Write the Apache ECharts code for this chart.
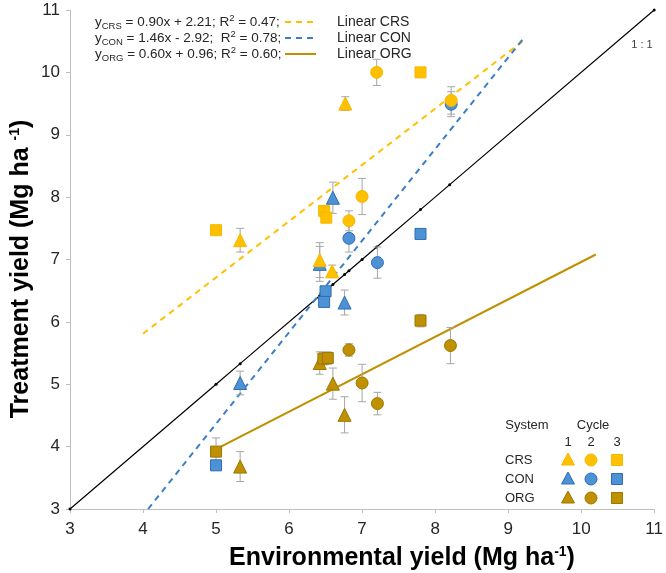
<!DOCTYPE html>
<html>
<head>
<meta charset="utf-8">
<script src="https://cdn.jsdelivr.net/npm/echarts@6/dist/echarts.min.js"></script>
<style>html,body{margin:0;padding:0;background:#fff;}#c{width:666px;height:573px;}</style>
</head>
<body>
<div id="c"></div>
<script>
// ---- data: [environmental yield, treatment yield, error] ----
const crsCycle1 = [[5.33, 7.31, 0.19], [6.42, 6.99, 0.28], [6.59, 6.81, 0.10], [6.77, 9.50, 0.11]];
const crsCycle2 = [[6.82, 7.62, 0.16], [7.00, 8.01, 0.29], [7.20, 10.00, 0.21], [8.22, 9.55, 0.22]];
const crsCycle3 = [[5.00, 7.47, 0.00], [6.48, 7.78, 0.08], [6.51, 7.67, 0.00], [7.80, 10.00, 0.00]];
const conCycle1 = [[5.33, 5.02, 0.19], [6.42, 6.93, 0.28], [6.60, 7.99, 0.25], [6.76, 6.31, 0.20]];
const conCycle2 = [[6.82, 7.34, 0.22], [7.21, 6.95, 0.25], [8.22, 9.49, 0.20]];
const conCycle3 = [[5.00, 3.70, 0.00], [6.50, 6.49, 0.00], [6.48, 6.32, 0.00], [7.80, 7.41, 0.00]];
const orgCycle1 = [[5.33, 3.68, 0.24], [6.42, 5.34, 0.18], [6.60, 5.01, 0.25], [6.76, 4.51, 0.29]];
const orgCycle2 = [[6.82, 5.55, 0.10], [7.00, 5.02, 0.30], [7.21, 4.69, 0.18], [8.21, 5.62, 0.29]];
const orgCycle3 = [[5.00, 3.92, 0.22], [6.47, 5.41, 0.10], [6.53, 5.42, 0.10], [7.80, 6.02, 0.10]];
// trend lines (end points)
const linearCRS = [[4.0, 5.81], [9.2, 10.5]];
const linearCON = [[4.07, 3.0], [9.22, 10.56]];
const linearORG = [[5.0, 3.96], [10.2, 7.08]];
// 1:1 line with its point markers
const oneToOne = [[3, 3], [5, 5], [5.33, 5.33], [6.42, 6.42], [6.5, 6.5], [6.6, 6.6], [6.76, 6.76], [6.82, 6.82], [7, 7], [7.2, 7.2], [7.8, 7.8], [8.2, 8.2], [11, 11]];
const axisTicks = [3, 4, 5, 6, 7, 8, 9, 10, 11];
const eqTexts = [
  'y{sub|CRS} = 0.90x + 2.21; R{sup|2} = 0.47;',
  'y{sub|CON} = 1.46x - 2.92;  R{sup|2} = 0.78;',
  'y{sub|ORG} = 0.60x + 0.96; R{sup|2} = 0.60;'
];
const lineNames = ['Linear CRS', 'Linear CON', 'Linear ORG'];
const systems = ['CRS', 'CON', 'ORG'];
const cycles = ['1', '2', '3'];

const COL = {
  CRS: { fill: '#FFC000', border: '#F5B800' },
  CON: { fill: '#4E92D6', border: '#2E6DB4' },
  ORG: { fill: '#BF9000', border: '#9E7700' }
};
const LINECOL = { CRS: '#FFC000', CON: '#3A7FC6', ORG: '#BF9000' };
const FONT = '"Liberation Sans", Arial, sans-serif';

const chart = echarts.init(document.getElementById('c'));

function errSeries(data) {
  return {
    type: 'custom', z: 3, silent: true,
    data: data.filter(d => d[2] > 0),
    renderItem: function (params, api) {
      const x = api.value(0), y = api.value(1), e = api.value(2);
      const t = api.coord([x, y + e]), b = api.coord([x, y - e]);
      const w = 4, st = { stroke: '#A6A6A6', lineWidth: 1 };
      return { type: 'group', children: [
        { type: 'line', shape: { x1: t[0], y1: t[1], x2: b[0], y2: b[1] }, style: st },
        { type: 'line', shape: { x1: t[0] - w, y1: t[1], x2: t[0] + w, y2: t[1] }, style: st },
        { type: 'line', shape: { x1: b[0] - w, y1: b[1], x2: b[0] + w, y2: b[1] }, style: st }
      ] };
    }
  };
}
const SYM = ['triangle', 'circle', 'rect'];
const SIZE = [13, 12, 11];
function scat(data, sys, cyc, z) {
  return {
    type: 'scatter', z: z, symbol: SYM[cyc], symbolSize: SIZE[cyc],
    data: data.map(d => [d[0], d[1]]),
    itemStyle: { color: COL[sys].fill, borderColor: COL[sys].border, borderWidth: 1, opacity: 1 }
  };
}

const allData = [orgCycle1, orgCycle2, orgCycle3, conCycle1, conCycle2, conCycle3, crsCycle1, crsCycle2, crsCycle3];
const series = [];
series.push({ type: 'line', data: oneToOne, symbol: 'circle', symbolSize: 3, z: 2,
  lineStyle: { color: '#000', width: 1.2 }, itemStyle: { color: '#000' } });
series.push({ type: 'line', data: linearCRS, symbol: 'none', z: 2, lineStyle: { color: LINECOL.CRS, width: 2, type: [6, 5] } });
series.push({ type: 'line', data: linearCON, symbol: 'none', z: 2, lineStyle: { color: LINECOL.CON, width: 2, type: [6, 5] } });
series.push({ type: 'line', data: linearORG, symbol: 'none', z: 2, lineStyle: { color: LINECOL.ORG, width: 2 } });
allData.forEach(d => series.push(errSeries(d)));
series.push(scat(orgCycle1, 'ORG', 0, 4), scat(orgCycle2, 'ORG', 1, 4), scat(orgCycle3, 'ORG', 2, 4));
series.push(scat(conCycle1, 'CON', 0, 5), scat(conCycle2, 'CON', 1, 5), scat(conCycle3, 'CON', 2, 5));
series.push(scat(crsCycle1, 'CRS', 0, 6), scat(crsCycle2, 'CRS', 1, 6), scat(crsCycle3, 'CRS', 2, 6));

const rich = {
  sub: { fontSize: 9.5, verticalAlign: 'bottom', lineHeight: 9, fontFamily: FONT, fill: '#262626' },
  sup: { fontSize: 9.5, verticalAlign: 'top', lineHeight: 9, fontFamily: FONT, fill: '#262626' }
};
const graphics = [];
const rowY = [22, 38, 54];
const lineKeys = ['CRS', 'CON', 'ORG'];
eqTexts.forEach((t, i) => {
  graphics.push({ type: 'text', x: 95, y: rowY[i], style: { text: t, fontSize: 13.5, fontFamily: FONT, fill: '#262626',
    lineHeight: 18, textVerticalAlign: 'middle', rich: rich } });
  graphics.push({ type: 'line', shape: { x1: 285, y1: rowY[i], x2: 316, y2: rowY[i] },
    style: { stroke: LINECOL[lineKeys[i]], lineWidth: 2, lineDash: i < 2 ? [6, 5] : null } });
  graphics.push({ type: 'text', x: 337, y: rowY[i], style: { text: lineNames[i], fontSize: 14, fontFamily: FONT, fill: '#262626', textVerticalAlign: 'middle' } });
});
graphics.push({ type: 'text', x: 642, y: 45, style: { text: '1 : 1', fontSize: 11, fontFamily: FONT, fill: '#404040', textAlign: 'center', textVerticalAlign: 'middle' } });
// axis titles
const supBold = { sup: { fontSize: 14, fontWeight: 'bold', verticalAlign: 'top', lineHeight: 14, fontFamily: FONT, fill: '#000' } };
graphics.push({ type: 'text', x: 402, y: 558, style: { text: 'Environmental yield (Mg ha{sup|-1})', fontSize: 25, fontWeight: 'bold', fontFamily: FONT, fill: '#000',
  textAlign: 'center', textVerticalAlign: 'middle', rich: supBold } });
graphics.push({ type: 'text', x: 21, y: 269, rotation: Math.PI / 2, style: { text: 'Treatment yield (Mg ha {sup|-1})', fontSize: 25, fontWeight: 'bold', fontFamily: FONT, fill: '#000',
  textAlign: 'center', textVerticalAlign: 'middle', rich: supBold } });
// bottom-right key
const keyStyle = { fontSize: 13, fontFamily: FONT, fill: '#262626', textAlign: 'center', textVerticalAlign: 'middle' };
graphics.push({ type: 'text', x: 527, y: 425, style: Object.assign({ text: 'System' }, keyStyle) });
graphics.push({ type: 'text', x: 593, y: 425, style: Object.assign({ text: 'Cycle' }, keyStyle) });
const colX = [568, 591, 617];
const rowK = [460, 479, 498];
cycles.forEach((c, j) => graphics.push({ type: 'text', x: colX[j], y: 442, style: Object.assign({ text: c }, keyStyle) }));
systems.forEach((s, i) => {
  graphics.push({ type: 'text', x: 505, y: rowK[i], style: Object.assign({}, keyStyle, { text: s, textAlign: 'left' }) });
  const st = { fill: COL[s].fill, stroke: COL[s].border, lineWidth: 1 };
  graphics.push({ type: 'polygon', shape: { points: [[colX[0], rowK[i] - 7], [colX[0] + 6.5, rowK[i] + 5], [colX[0] - 6.5, rowK[i] + 5]] }, style: st });
  graphics.push({ type: 'circle', shape: { cx: colX[1], cy: rowK[i], r: 6 }, style: st });
  graphics.push({ type: 'rect', shape: { x: colX[2] - 5.5, y: rowK[i] - 5.5, width: 11, height: 11 }, style: st });
});

chart.setOption({
  animation: false,
  backgroundColor: '#fff',
  grid: { left: 70, right: 11, top: 10, bottom: 64 },
  xAxis: {
    type: 'value', min: axisTicks[0], max: axisTicks[axisTicks.length - 1], interval: 1,
    axisLine: { lineStyle: { color: '#BFBFBF' } },
    axisTick: { show: true, length: 4, lineStyle: { color: '#BFBFBF' } },
    splitLine: { show: false },
    axisLabel: { fontSize: 17, color: '#262626', fontFamily: FONT, margin: 12 }
  },
  yAxis: {
    type: 'value', min: axisTicks[0], max: axisTicks[axisTicks.length - 1], interval: 1,
    axisLine: { show: true, lineStyle: { color: '#BFBFBF' } },
    axisTick: { show: true, length: 4, lineStyle: { color: '#BFBFBF' } },
    splitLine: { show: false },
    axisLabel: { fontSize: 17, color: '#262626', fontFamily: FONT, margin: 10 }
  },
  series: series,
  graphic: graphics
});
</script>
</body>
</html>
